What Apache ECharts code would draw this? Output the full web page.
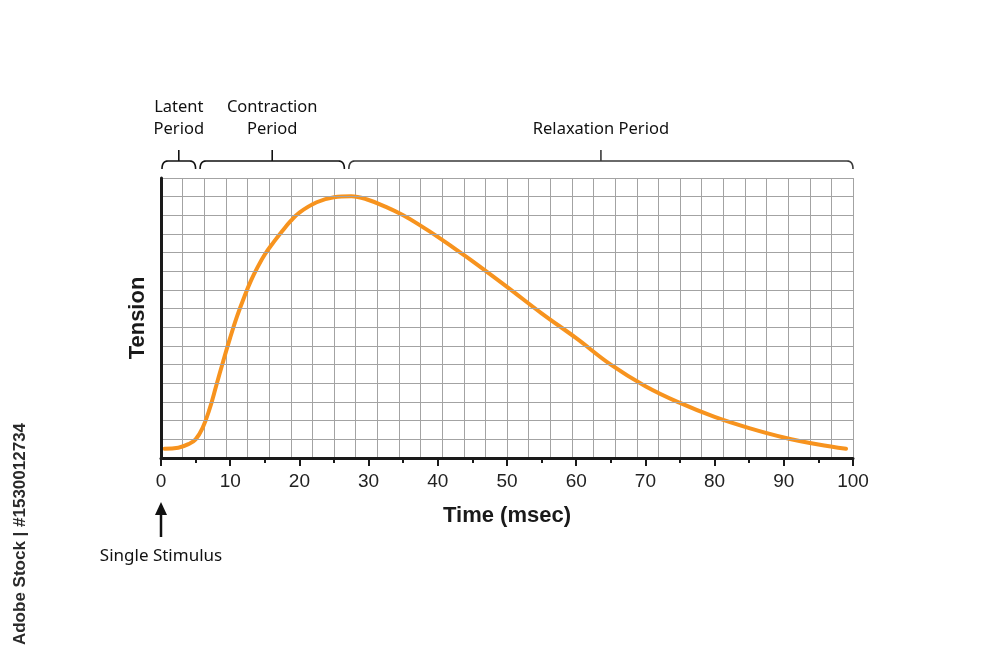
<!DOCTYPE html>
<html>
<head>
<meta charset="utf-8">
<script src="https://cdn.jsdelivr.net/npm/echarts@6/dist/echarts.min.js"></script>
<style>html,body{margin:0;padding:0;background:#fff;}#c{width:1000px;height:667px;}</style>
</head>
<body>
<div id="c"></div>
<script>
// Time (msec)
const timeMs = [0.5, 2.5, 4, 5, 6, 7, 8, 9, 10, 11, 12, 13, 14, 15, 16.25, 17.5, 18.75, 20, 22.5, 25, 27.5, 30, 32.5, 35, 37.5, 40, 42.5, 45, 50, 55, 60, 65, 70, 75, 80, 85, 90, 95, 99];
// Tension (grid units, 0-15)
const tension = [0.5, 0.55, 0.75, 1.0, 1.6, 2.6, 3.9, 5.2, 6.45, 7.6, 8.6, 9.5, 10.25, 10.9, 11.55, 12.15, 12.7, 13.15, 13.7, 13.97, 14.02, 13.82, 13.45, 13.0, 12.45, 11.85, 11.2, 10.55, 9.17, 7.75, 6.42, 5.0, 3.85, 2.95, 2.2, 1.6, 1.1, 0.72, 0.49];
const xTicks = [0, 10, 20, 30, 40, 50, 60, 70, 80, 90, 100];
// Phase brackets [start, end] in msec
const phaseNames = ['Latent\nPeriod', 'Contraction\nPeriod', 'Relaxation Period'];
const phaseStart = [0, 5.5, 27];
const phaseEnd = [5, 26.5, 100];

const chart = echarts.init(document.getElementById('c'));
const BLACK = '#1a1a1a';
const GRIDC = '#a3a3a3';
chart.setOption({
  animation: false,
  backgroundColor: '#fff',
  grid: { left: 161, right: 147, top: 178, bottom: 209, containLabel: false },
  xAxis: [{
    type: 'value', min: 0, max: 100, interval: 10, z: 5,
    name: 'Time (msec)', nameLocation: 'middle', nameGap: 47,
    nameTextStyle: { fontFamily: 'Liberation Sans, Arial', fontWeight: 'bold', fontSize: 22, color: BLACK },
    axisLine: { show: true, onZero: false, lineStyle: { color: BLACK, width: 3 } },
    axisTick: { show: true, length: 8, lineStyle: { color: BLACK, width: 2 } },
    minorTick: { show: true, splitNumber: 2, length: 5, lineStyle: { color: BLACK, width: 2 } },
    splitLine: { show: false },
    axisLabel: { margin: 14, fontFamily: 'Liberation Sans, Arial', fontSize: 19, color: '#222',
      formatter: v => xTicks.includes(v) ? String(v) : '' }
  }, {
    type: 'value', min: 0, max: 32, interval: 1, position: 'top', z: 0,
    axisLine: { show: false }, axisTick: { show: false }, axisLabel: { show: false },
    splitLine: { show: true, lineStyle: { color: GRIDC, width: 1 } }
  }],
  yAxis: [{
    type: 'value', min: 0, max: 15, interval: 1, z: 5,
    name: 'Tension', nameLocation: 'middle', nameGap: 12, nameRotate: 90,
    nameTextStyle: { fontFamily: 'Liberation Sans, Arial', fontWeight: 'bold', fontSize: 22, color: BLACK },
    axisLine: { show: true, onZero: false, lineStyle: { color: BLACK, width: 3 } },
    axisTick: { show: false }, axisLabel: { show: false },
    splitLine: { show: true, lineStyle: { color: GRIDC, width: 1 } }
  }],
  series: [{
    type: 'line', xAxisIndex: 0, yAxisIndex: 0, z: 3,
    data: timeMs.map((t, i) => [t, tension[i]]),
    smooth: 0.4, showSymbol: false, symbol: 'none',
    lineStyle: { color: '#F7931E', width: 4, cap: 'round' }
  }]
});

function px(x) { return chart.convertToPixel({ xAxisIndex: 0, yAxisIndex: 0 }, [x, 0])[0]; }
const yLine = 161, yEnd = 169, yTick = 150, r = 6;
function corner(ax, ay, cx, cy, bx, by) {
  const pts = [];
  for (let k = 0; k <= 8; k++) {
    const t = k / 8, u = 1 - t;
    pts.push([u * u * ax + 2 * u * t * cx + t * t * bx, u * u * ay + 2 * u * t * cy + t * t * by]);
  }
  return pts;
}
const graphics = [];
phaseNames.forEach((name, i) => {
  const x0 = px(phaseStart[i]) + 1, x1 = px(phaseEnd[i]);
  const xm = (x0 + x1) / 2;
  const pts = corner(x0, yEnd, x0, yLine, x0 + r, yLine).concat(corner(x1 - r, yLine, x1, yLine, x1, yEnd));
  const col = i === 2 ? '#3a3a3a' : '#111';
  graphics.push({ type: 'polyline', shape: { points: pts }, style: { fill: null, stroke: col, lineWidth: 1.6 } });
  graphics.push({ type: 'line', shape: { x1: xm, y1: yLine, x2: xm, y2: yTick }, style: { stroke: col, lineWidth: 1.6 } });
  const multi = name.indexOf('\n') >= 0;
  graphics.push({ type: 'text', x: xm, y: multi ? 96 : 118, style: {
    text: name, fill: '#111', font: '16.5px "Noto Sans", sans-serif', align: 'center', verticalAlign: 'top', lineHeight: 22 } });
});
const xs = px(0);
graphics.push({ type: 'line', shape: { x1: xs, y1: 537, x2: xs, y2: 512 }, style: { stroke: '#111', lineWidth: 2.5 } });
graphics.push({ type: 'polygon', shape: { points: [[xs, 502], [xs - 6, 515], [xs + 6, 515]] }, style: { fill: '#111' } });
graphics.push({ type: 'text', x: xs, y: 556, style: { text: 'Single Stimulus', fill: '#111', font: '17px "Noto Sans", sans-serif', align: 'center', verticalAlign: 'middle' } });
graphics.push({ type: 'text', x: 20, y: 534, rotation: Math.PI / 2, style: { text: 'Adobe Stock | #1530012734', fill: '#2a2a2a', font: 'bold 17px "Liberation Sans", Arial', align: 'center', verticalAlign: 'middle' } });
chart.setOption({ graphic: graphics });
</script>
</body>
</html>
